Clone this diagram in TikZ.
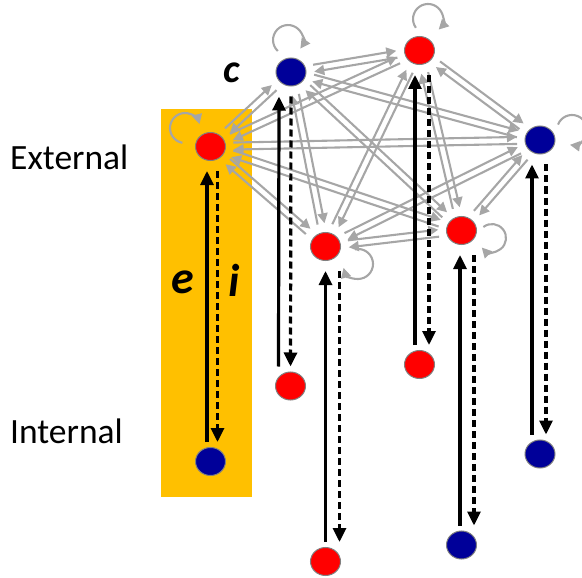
\documentclass[tikz,border=0pt]{standalone}
\usepackage{fontspec}
\setmainfont{Carlito}
\usetikzlibrary{calc,shapes.geometric,arrows.meta}
\definecolor{gold}{RGB}{255,192,0}
\definecolor{navy}{RGB}{0,0,153}
\definecolor{gline}{RGB}{166,166,166}
\definecolor{nborder}{RGB}{128,128,128}
\newcommand\dedge[2]{%
  \draw[gedge] ($(#1)!3.5pt!90:(#2)$) -- ($(#2)!3.5pt!-90:(#1)$);
  \draw[gedge] ($(#2)!3.5pt!90:(#1)$) -- ($(#1)!3.5pt!-90:(#2)$);
}
\newcommand\vpair[4]{% top, bottom, solid dx, dashed dx
  \draw[solidarrow] ([xshift=#3pt,yshift=5pt]#2.north) -- ([xshift=#3pt,yshift=-10pt]#1.south);
  \draw[dasharrow] ([xshift=#4pt,yshift=-10pt]#1.south) -- ([xshift=#4pt,yshift=5pt]#2.north);
}
\begin{document}
\begin{tikzpicture}[x=1pt,y=-1pt,
  dot/.style={ellipse, draw=nborder, line width=1pt, minimum width=30pt, minimum height=28pt, inner sep=0pt},
  rdot/.style={dot, fill=red},
  bdot/.style={dot, fill=navy},
  gedge/.style={draw=gline, line width=2.1pt, -{Triangle[length=10pt,width=10pt]}, shorten >=23pt, shorten <=23pt},
  gloop/.style={draw=gline, line width=2.1pt, -{Triangle[length=10pt,width=10pt]}},
  solidarrow/.style={line width=3.2pt, -{Triangle[length=14pt,width=13pt]}},
  dasharrow/.style={line width=3.2pt, dash pattern=on 7pt off 4pt, -{Triangle[length=14pt,width=13pt]}},
  lab/.style={inner sep=0pt, font=\fontsize{35.5}{40}\selectfont, anchor=base west},
  big/.style={inner sep=0pt, font=\fontsize{#1}{#1}\selectfont\bfseries\itshape},
]
\useasboundingbox (0,0) rectangle (582,578);
\fill[gold] (161,109) rectangle (252,497);

% external layer
\node[rdot] (A) at (210.5,146.5) {};
\node[bdot] (B) at (291,72) {};
\node[rdot] (C) at (419.5,50.5) {};
\node[bdot] (D) at (540,140) {};
\node[rdot] (E) at (325.5,246.5) {};
\node[rdot] (F) at (461.5,230.5) {};
% internal layer
\node[bdot] (a) at (210.5,461.5) {};
\node[rdot] (b) at (290.5,386) {};
\node[rdot] (c) at (419.5,364.5) {};
\node[bdot] (d) at (540,454) {};
\node[rdot] (e) at (325.5,561.5) {};
\node[bdot] (f) at (461.5,545) {};

% gray network
\dedge{A}{B}\dedge{A}{C}\dedge{A}{D}\dedge{A}{E}\dedge{A}{F}
\dedge{B}{C}\dedge{B}{D}\dedge{B}{E}\dedge{B}{F}
\dedge{C}{D}\dedge{C}{E}\dedge{C}{F}
\dedge{D}{E}\dedge{D}{F}
\dedge{E}{F}

% self loops
\draw[gloop] ($(A)+(-28.1,-3.7)$) arc[start angle=100,end angle=345,radius=15];
\draw[gloop] ($(B)+(-13.2,-21)$) arc[start angle=133,end angle=395,radius=15];
\draw[gloop] ($(C)+(-3.6,-22.7)$) arc[start angle=144,end angle=405,radius=15];
\draw[gloop] ($(D)+(18,-15.4)$) arc[start angle=201,end angle=458,radius=15];
\draw[gloop] ($(E)+(29.4,2.8)$) arc[start angle=258,end angle=525,radius=15];
\draw[gloop] ($(F)+(21.9,-3.5)$) arc[start angle=232,end angle=497,radius=14];

% vertical arrows
\vpair{A}{a}{-3.5}{7}
\vpair{B}{b}{-12}{0}
\vpair{C}{c}{-4.5}{9.5}
\vpair{D}{d}{-8}{6}
\vpair{E}{e}{0}{14}
\vpair{F}{f}{-1.5}{12.5}

% labels
\node[lab] (ext) at (10,169) {External};
\node[lab] (int) at (10,443) {Internal};
\node[big=40] (lc) at (232,73) {c};
\node[big=46] (le) at (183,282) {e};
\node[big=46] (li) at (234,280) {i};
\end{tikzpicture}
\end{document}
